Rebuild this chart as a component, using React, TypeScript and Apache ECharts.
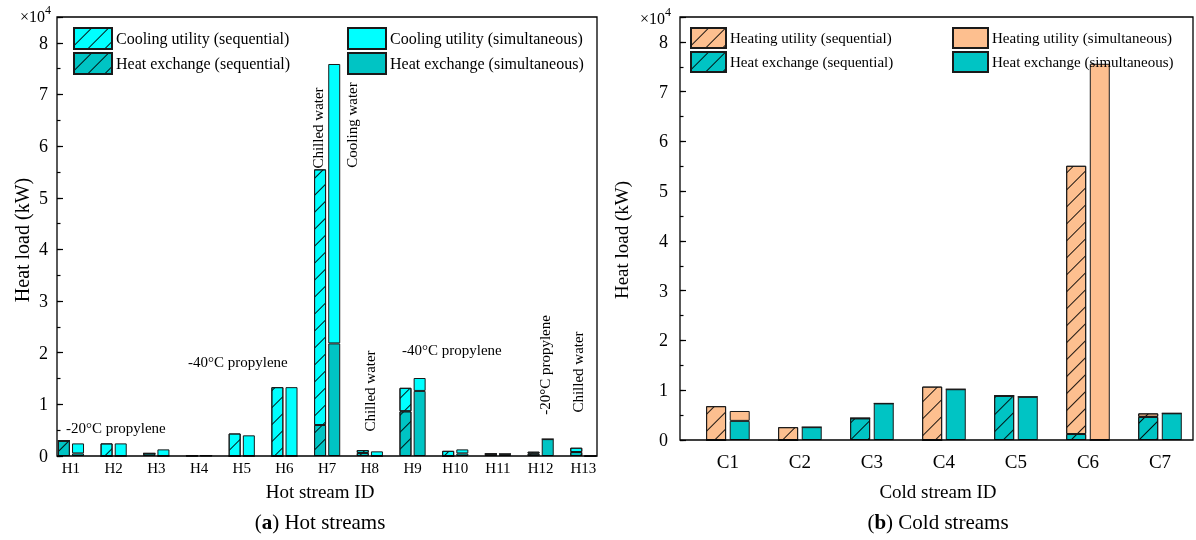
import React, { useEffect, useRef } from 'react';
import * as echarts from 'echarts';

const hotStreams = ['H1', 'H2', 'H3', 'H4', 'H5', 'H6', 'H7', 'H8', 'H9', 'H10', 'H11', 'H12', 'H13'];
const hotSeqExchange = [2950, 0, 500, 80, 0, 0, 6000, 600, 8650, 0, 400, 450, 770];
const hotSeqCooling = [0, 2440, 0, 0, 4360, 13330, 49500, 550, 4550, 1000, 0, 380, 830];
const hotSimExchange = [500, 0, 0, 80, 0, 0, 21800, 0, 12600, 500, 400, 3270, 0];
const hotSimCooling = [1940, 2440, 1280, 0, 4000, 13330, 54100, 900, 2500, 780, 0, 0, 0];

const coldStreams = ['C1', 'C2', 'C3', 'C4', 'C5', 'C6', 'C7'];
const coldSeqExchange = [0, 0, 4370, 0, 8870, 1200, 4650];
const coldSeqHeating = [6800, 2580, 0, 10730, 0, 53900, 700];
const coldSimExchange = [3840, 2580, 7350, 10200, 8680, 0, 5360];
const coldSimHeating = [1990, 0, 0, 0, 0, 75600, 0];

const yMax = 85000;
const yMajor = 10000;
const yMinor = 5000;

const FONT = '"Liberation Serif", "DejaVu Serif", serif';
const CYAN = '#00FFFF';
const TEAL = '#00C4C4';
const PEACH = '#FDBF8F';
const EDGE = '#1a1a1a';

const hatch = {
  symbol: 'rect',
  symbolSize: 1,
  dashArrayX: [1, 0],
  dashArrayY: [0.75, 10.5],
  rotation: -Math.PI / 4,
  color: 'rgba(0,0,0,0.9)',
};

function barSeries(name: string, stack: string, data: number[], color: string, hatched: boolean, gi: number, bw: number) {
  return {
    type: 'bar',
    name,
    stack: stack + gi,
    xAxisIndex: gi,
    yAxisIndex: gi * 2,
    data,
    barWidth: bw,
    barGap: '18%',
    itemStyle: {
      color,
      borderColor: EDGE,
      borderWidth: 1,
      decal: hatched ? hatch : undefined,
    },
    emphasis: { disabled: true },
  };
}

function yAxes(gi: number, offset: number, fontSize: number, margin: number) {
  return [
    {
      type: 'value', gridIndex: gi, position: 'left', min: 0, max: yMax, interval: yMajor, offset,
      axisLine: { show: false },
      axisTick: { show: true, inside: true, length: 6, lineStyle: { color: '#000', width: 1.2 } },
      splitLine: { show: false },
      axisLabel: {
        color: '#000', fontSize, fontFamily: FONT, margin,
        formatter: (v: number) => (v % yMajor === 0 ? String(v / yMajor) : ''),
      },
    },
    {
      type: 'value', gridIndex: gi, position: 'left', min: 0, max: yMax, interval: yMinor, offset,
      axisLine: { show: false },
      axisTick: { show: true, inside: true, length: 3.5, lineStyle: { color: '#000', width: 1.2 } },
      splitLine: { show: false },
      axisLabel: { show: false },
    },
  ];
}

function legend(left: number, data: string[], fontSize: number, iw: number, ih: number) {
  return {
    left, top: 27, orient: 'vertical', itemGap: 2, itemWidth: iw, itemHeight: ih, padding: 0,
    icon: 'rect', selectedMode: false, data,
    textStyle: { color: '#000', fontSize, fontFamily: FONT, padding: [0, 0, 0, -1] },
  };
}

function txt(text: string, x: number, y: number, fontSize: number, rotated = false, align = 'center') {
  return {
    type: 'text', x, y, rotation: rotated ? Math.PI / 2 : 0, silent: true, z: 50,
    style: { text, fill: '#000', fontSize, fontFamily: FONT, align, verticalAlign: 'middle' },
  };
}

function caption(letter: string, rest: string, x: number, y: number) {
  return {
    type: 'text', x, y, silent: true,
    style: {
      text: `{n|(}{b|${letter}}{n|) ${rest}}`, align: 'center', verticalAlign: 'middle',
      rich: {
        n: { fontSize: 21, fontFamily: FONT, fill: '#000' },
        b: { fontSize: 21, fontFamily: FONT, fontWeight: 'bold', fill: '#000' },
      },
    },
  };
}

function power(x: number, y: number) {
  return {
    type: 'text', x, y, silent: true,
    style: {
      text: '{a|×10}{s|4}', align: 'left', verticalAlign: 'middle',
      rich: {
        a: { fontSize: 16, fontFamily: FONT, fill: '#000', lineHeight: 20, verticalAlign: 'bottom' },
        s: { fontSize: 12, fontFamily: FONT, fill: '#000', lineHeight: 20, verticalAlign: 'top' },
      },
    },
  };
}

export default function App() {
  const ref = useRef<HTMLDivElement>(null);
  useEffect(() => {
    if (!ref.current) return;
    const chart = echarts.init(ref.current, undefined, { renderer: 'svg' });
    const option: any = {
      animation: false,
      textStyle: { fontFamily: FONT },
      grid: [
        { left: 49.6, top: 17, width: 555.1, height: 439 },
        { left: 691.9, top: 17, width: 505.4, height: 423 },
      ],
      xAxis: [
        {
          type: 'category', gridIndex: 0, data: hotStreams,
          axisLine: { show: false }, axisTick: { show: false },
          axisLabel: { color: '#000', fontSize: 15, fontFamily: FONT, margin: 4 },
        },
        {
          type: 'category', gridIndex: 1, data: coldStreams,
          axisLine: { show: false }, axisTick: { show: false },
          axisLabel: { color: '#000', fontSize: 19, fontFamily: FONT, margin: 12 },
        },
      ],
      yAxis: [...yAxes(0, -7.4, 18, 9), ...yAxes(1, 11.9, 18, 12)],
      legend: [
        legend(73, ['Cooling utility (sequential)', 'Heat exchange (sequential)'], 16, 38, 21),
        legend(347, ['Cooling utility (simultaneous)', 'Heat exchange (simultaneous)'], 16, 38, 21),
        legend(690, ['Heating utility (sequential)', 'Heat exchange (sequential)'], 15, 35, 20),
        legend(952, ['Heating utility (simultaneous)', 'Heat exchange (simultaneous)'], 15, 35, 20),
      ],
      series: [
        barSeries('Heat exchange (sequential)', 'seq', hotSeqExchange, TEAL, true, 0, 12),
        barSeries('Cooling utility (sequential)', 'seq', hotSeqCooling, CYAN, true, 0, 12),
        barSeries('Heat exchange (simultaneous)', 'sim', hotSimExchange, TEAL, false, 0, 12),
        barSeries('Cooling utility (simultaneous)', 'sim', hotSimCooling, CYAN, false, 0, 12),
        barSeries('Heat exchange (sequential)', 'seq', coldSeqExchange, TEAL, true, 1, 20),
        barSeries('Heating utility (sequential)', 'seq', coldSeqHeating, PEACH, true, 1, 20),
        barSeries('Heat exchange (simultaneous)', 'sim', coldSimExchange, TEAL, false, 1, 20),
        barSeries('Heating utility (simultaneous)', 'sim', coldSimHeating, PEACH, false, 1, 20),
      ],
      graphic: [
        { type: 'rect', silent: true, z: 100, shape: { x: 57, y: 17, width: 540, height: 439 }, style: { fill: 'none', stroke: '#000', lineWidth: 1.3 } },
        { type: 'rect', silent: true, z: 100, shape: { x: 680, y: 17, width: 513, height: 423 }, style: { fill: 'none', stroke: '#000', lineWidth: 1.3 } },
        power(20, 14),
        power(640, 16),
        txt('Heat load (kW)', 22, 240, 20, true),
        txt('Heat load (kW)', 621, 240, 19, true),
        txt('Hot stream ID', 320, 491, 19),
        txt('Cold stream ID', 938, 491, 19),
        caption('a', 'Hot streams', 320, 522),
        caption('b', 'Cold streams', 938, 522),
        txt('-20°C propylene', 66, 428, 15, false, 'left'),
        txt('-40°C propylene', 188, 362, 15, false, 'left'),
        txt('Chilled water', 318, 128, 15, true),
        txt('Cooling water', 352, 125, 15, true),
        txt('Chilled water', 370, 391, 15, true),
        txt('-40°C propylene', 402, 350, 15, false, 'left'),
        txt('-20°C propylene', 545, 365, 15, true),
        txt('Chilled water', 578, 372, 15, true),
      ],
    };
    chart.setOption(option);
    return () => chart.dispose();
  }, []);
  return <div ref={ref} style={{ position: 'fixed', left: 0, top: 0, width: 1196, height: 540 }} />;
}
